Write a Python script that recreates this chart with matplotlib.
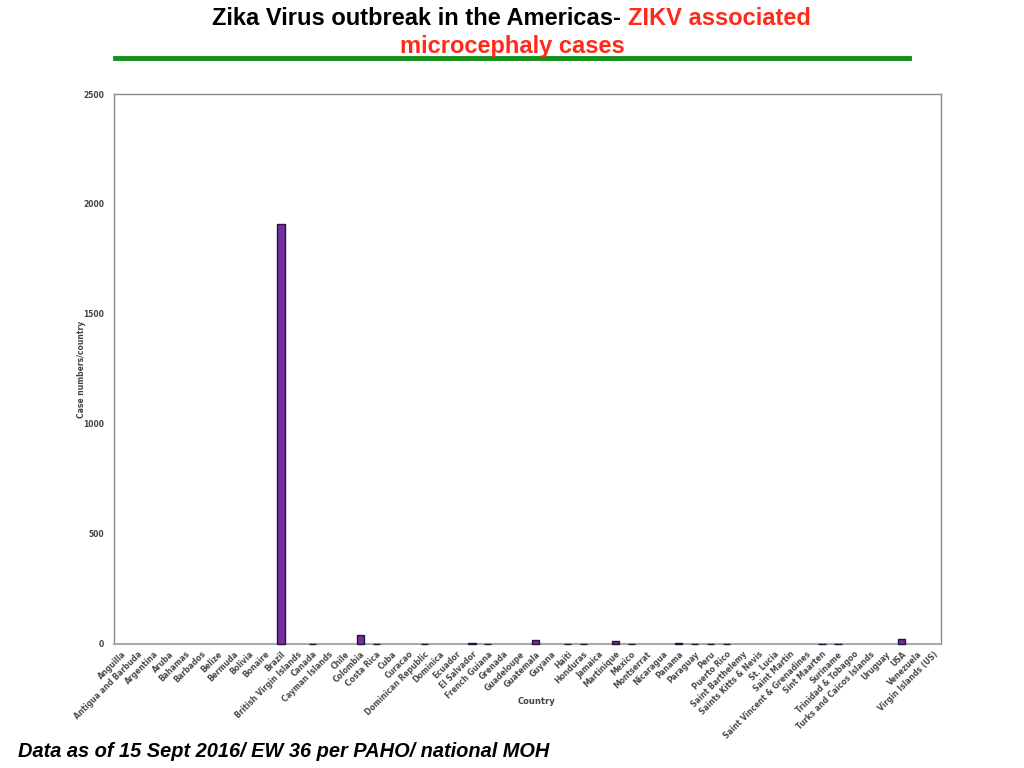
import matplotlib
matplotlib.use("Agg")
import matplotlib.pyplot as plt
from matplotlib.lines import Line2D

countries = ["Anguilla", "Antigua and Barbuda", "Argentina", "Aruba", "Bahamas", "Barbados",
             "Belize", "Bermuda", "Bolivia", "Bonaire", "Brazil", "British Virgin Islands",
             "Canada", "Cayman Islands", "Chile", "Colombia", "Costa Rica", "Cuba", "Curacao",
             "Dominican Republic", "Dominica", "Ecuador", "El Salvador", "French Guiana",
             "Grenada", "Guadeloupe", "Guatemala", "Guyana", "Haiti", "Honduras", "Jamaica",
             "Martinique", "Mexico", "Montserrat", "Nicaragua", "Panama", "Paraguay", "Peru",
             "Puerto Rico", "Saint Barthelemy", "Saints Kitts & Nevis", "St. Lucia",
             "Saint Martin", "Saint Vincent & Grenadines", "Sint Maarten", "Suriname",
             "Trinidad & Tobagoo", "Turks and Caicos Islands", "Uruguay", "USA", "Venezuela",
             "Virgin Islands (US)"]
cases = [0, 0, 0, 0, 0, 0,
         0, 0, 0, 0, 1911, 0,
         2, 0, 0, 40, 1, 0, 0,
         1, 0, 0, 5, 2,
         0, 0, 18, 0, 1, 2, 0,
         12, 1, 0, 0, 5, 2, 1,
         1, 0, 0, 0,
         0, 0, 1, 1,
         0, 0, 0, 24, 0,
         0]
yticks = [0, 500, 1000, 1500, 2000, 2500]

fig = plt.figure(figsize=(10.24, 7.68), dpi=100)
ax = fig.add_axes([0.1113, 0.1615, 0.808, 0.7161])

x = list(range(len(countries)))
edge_w = [1.0 if v > 0 else 0.0 for v in cases]
ax.bar(x, cases, width=0.45, color="#7030A0", edgecolor="#2a1040", linewidth=edge_w,
       zorder=3, clip_on=False)
ax.set_xlim(-0.5, len(countries) - 0.5)
ax.set_ylim(0, 2500)
ax.set_yticks(yticks)
ax.set_yticklabels([str(v) for v in yticks], fontsize=5.5, fontweight="bold", color="#444444")
ax.set_xticks(x)
ax.set_xticklabels(countries, rotation=45, ha="right", rotation_mode="anchor",
                   fontsize=5.5, fontweight="bold", color="#4a4a4a")
ax.tick_params(axis="both", length=0, pad=4)
ax.tick_params(axis="y", pad=7)
for s in ax.spines.values():
    s.set_color("#888888")
    s.set_linewidth(1.0)
ax.spines["bottom"].set_linewidth(1.5)
ax.spines["bottom"].set_color("#aaaaaa")
ax.set_ylabel("Case numbers/country", fontsize=5.5, fontweight="bold", color="#444444")
ax.yaxis.set_label_coords(-0.034, 0.5)
ax.set_xlabel("Country", fontsize=6, fontweight="bold", color="#444444")
ax.xaxis.set_label_coords(0.511, -0.097)

tfam = ["Liberation Sans", "DejaVu Sans"]
t1 = fig.text(0, 0.976, "Zika Virus outbreak in the Americas- ", fontsize=17, fontweight="bold",
              family=tfam, color="black", ha="left", va="center")
t2 = fig.text(0, 0.976, "ZIKV associated", fontsize=17, fontweight="bold",
              family=tfam, color="#FF2A1A", ha="left", va="center")
fig.canvas.draw()
r = fig.canvas.get_renderer()
w1 = t1.get_window_extent(r).width / fig.bbox.width
w2 = t2.get_window_extent(r).width / fig.bbox.width
x0 = 0.4995 - (w1 + w2) / 2
t1.set_x(x0)
t2.set_x(x0 + w1)
fig.text(0.5005, 0.940, "microcephaly cases", fontsize=17, fontweight="bold",
         family=tfam, color="#FF2A1A", ha="center", va="center")
fig.add_artist(Line2D([0.1123, 0.8877], [0.9245, 0.9245], color="#12901A", linewidth=3.5,
                      transform=fig.transFigure))
fig.text(0.018, 0.021, "Data as of 15 Sept 2016/ EW 36 per PAHO/ national MOH", fontsize=14.4,
         fontweight="bold", fontstyle="italic", family=["Liberation Sans", "DejaVu Sans"],
         ha="left", va="center")

fig.savefig("out.png", dpi=100)
